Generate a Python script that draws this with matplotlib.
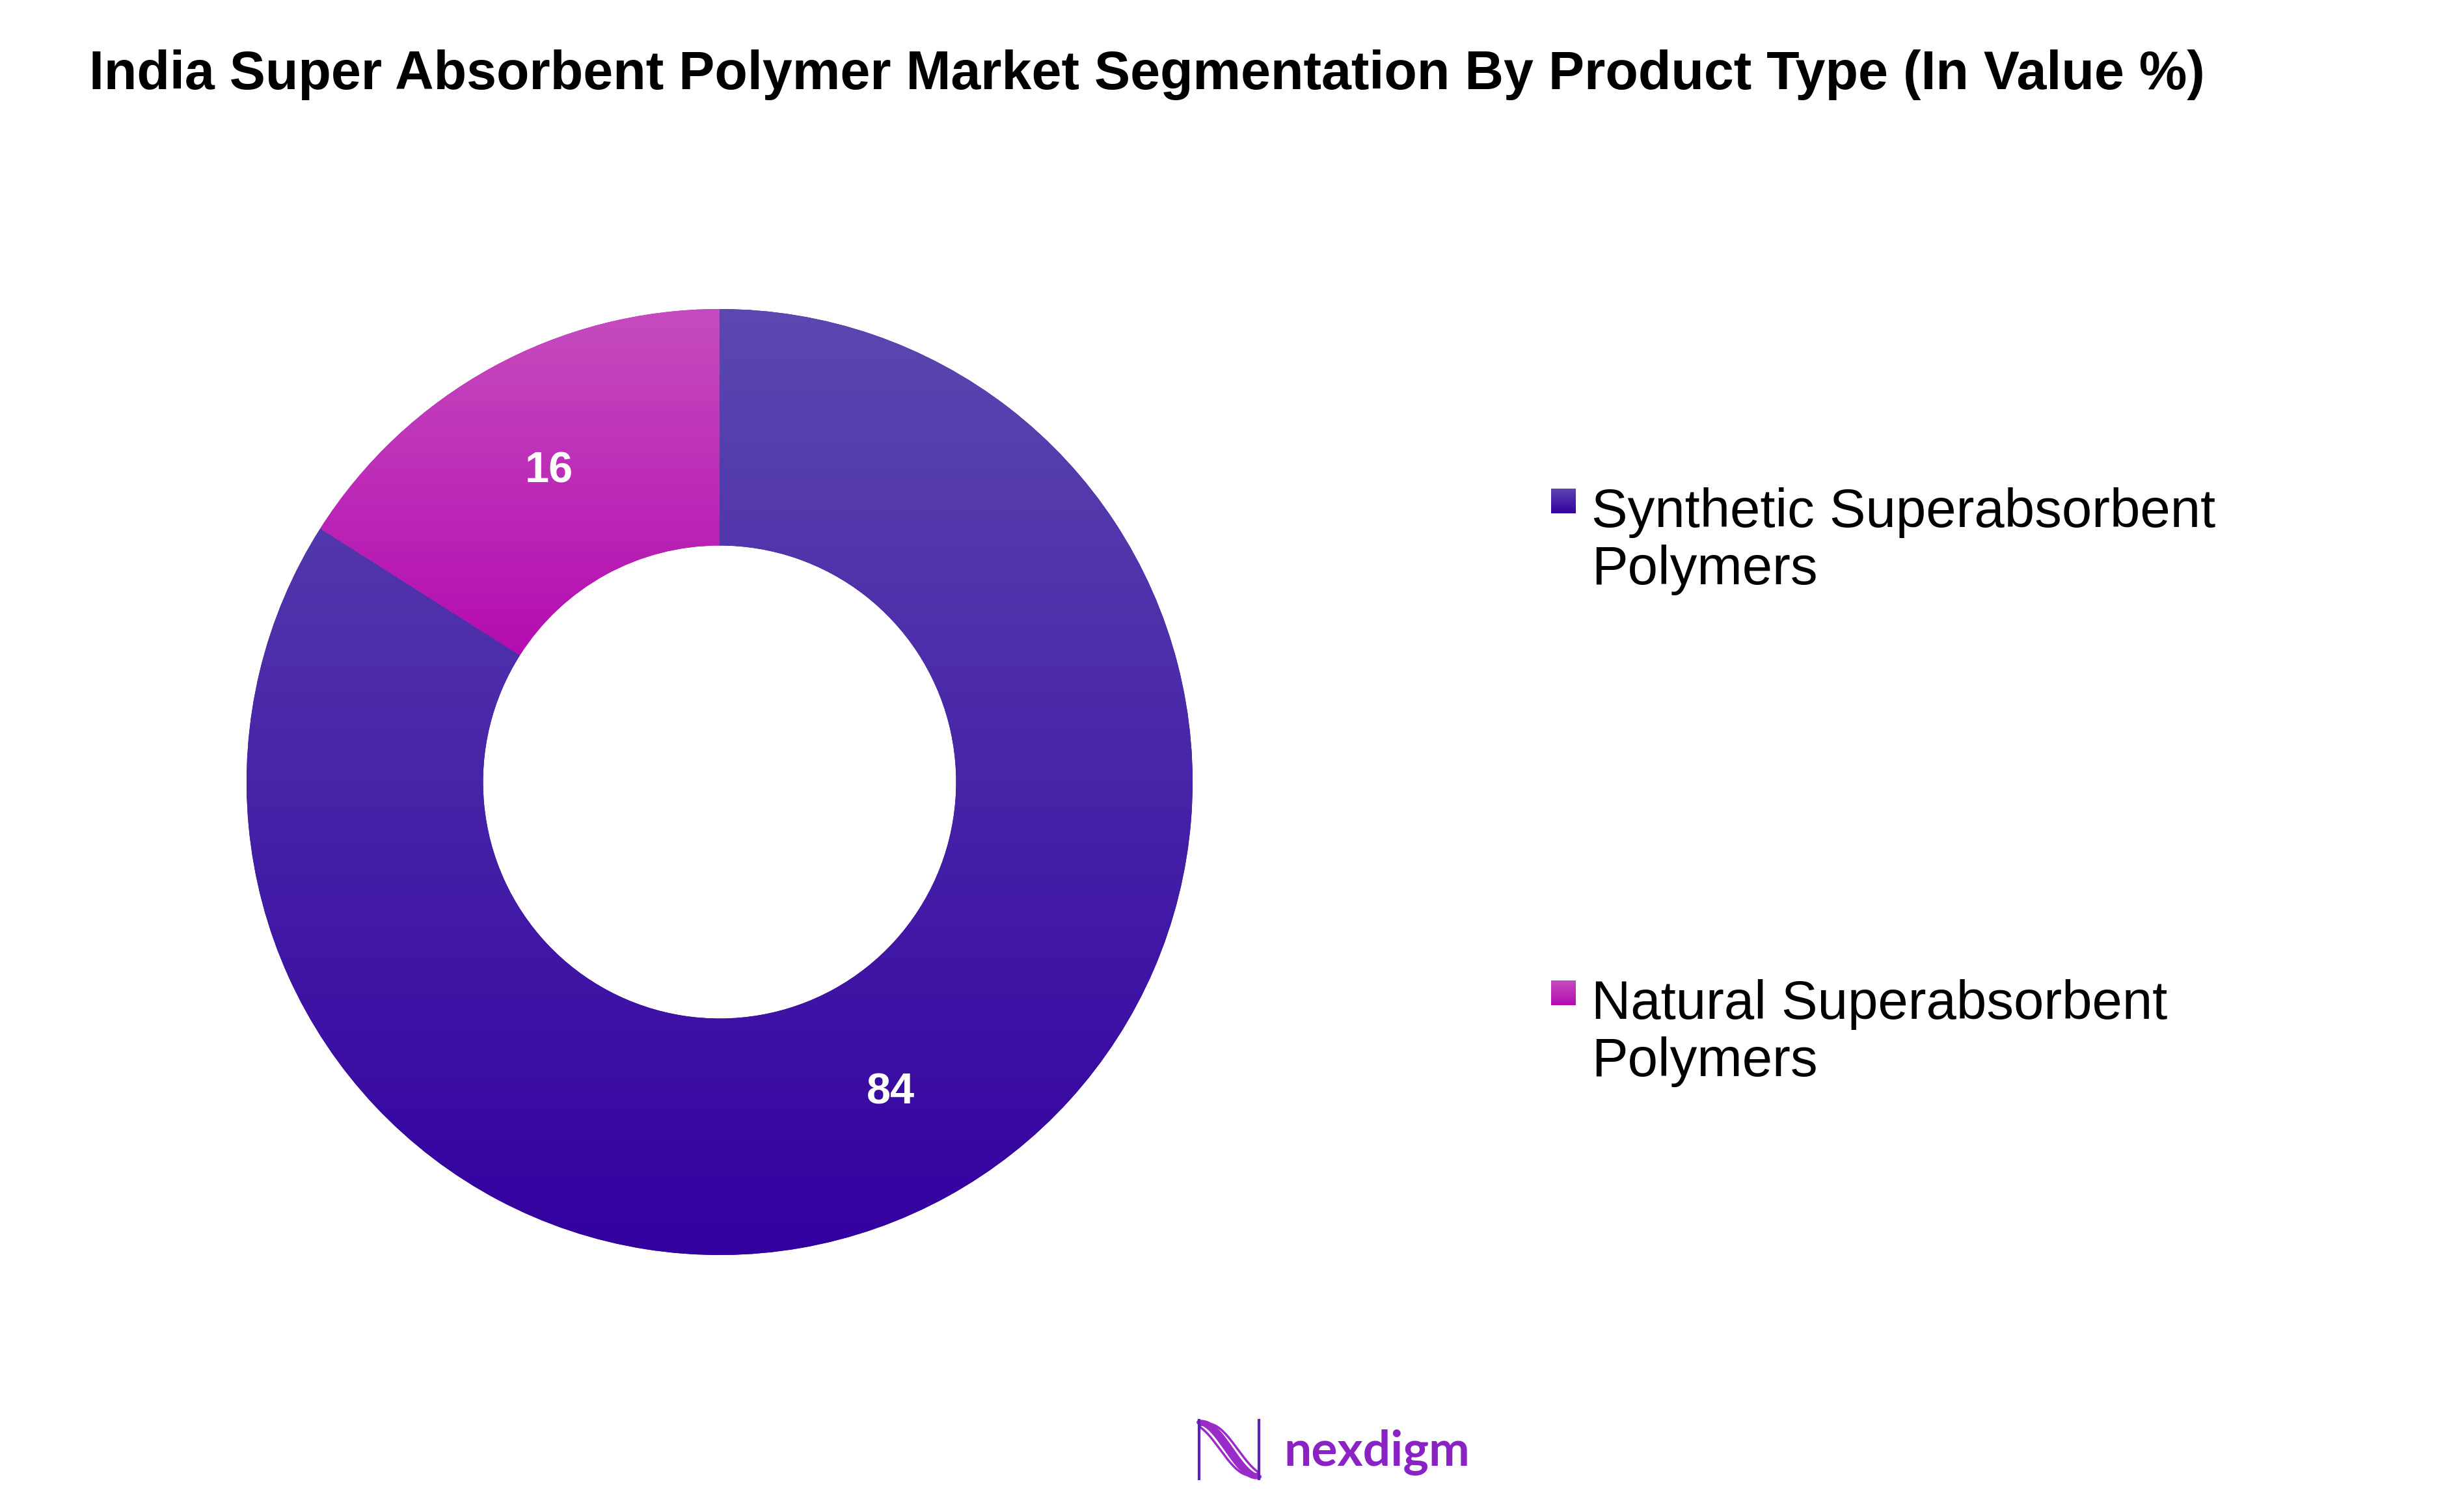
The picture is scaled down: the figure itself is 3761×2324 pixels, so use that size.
import numpy as np
import matplotlib
matplotlib.use("Agg")
import matplotlib.pyplot as plt
from matplotlib.colors import to_rgb

# ---- data ----
title = "India Super Absorbent Polymer Market Segmentation By Product Type (In Value %)"
categories = ["Synthetic Superabsorbent\nPolymers", "Natural Superabsorbent\nPolymers"]
values = [84, 16]
value_labels = ["84", "16"]
base_colors = ["#3300A0", "#B40CB0"]
light_colors = ["#5C48B0", "#C64CBE"]

W, H = 3761, 2324
DPI = 100
fig = plt.figure(figsize=(W / DPI, H / DPI), dpi=DPI)
fig.patch.set_facecolor("white")

def grad_img(top, bottom, n=256):
    t = np.linspace(0, 1, n)[:, None, None]
    a = np.array(to_rgb(top))[None, None, :]
    b = np.array(to_rgb(bottom))[None, None, :]
    return a * (1 - t) + b * t

# ---- donut ----
cx, cy, R = 1106, 1202, 727
ax = fig.add_axes([(cx - R) / W, 1 - (cy + R) / H, 2 * R / W, 2 * R / H])
wedges, _ = ax.pie(values, startangle=90, counterclock=False, colors=base_colors,
                   wedgeprops=dict(width=0.5, edgecolor="none"), radius=1)
ax.set_xlim(-1, 1)
ax.set_ylim(-1, 1)
ax.set_aspect("equal")
ax.axis("off")

for w, top, bot in zip(wedges, light_colors, base_colors):
    ext = w.get_path().get_extents()
    im = ax.imshow(grad_img(top, bot), extent=[ext.x0, ext.x1, ext.y0, ext.y1],
                   origin="upper", aspect="auto", zorder=2, interpolation="bilinear")
    im.set_clip_path(w)

# value labels
for w, lab in zip(wedges, value_labels):
    ang = np.deg2rad((w.theta1 + w.theta2) / 2)
    r = 0.75
    ax.text(r * np.cos(ang), r * np.sin(ang), lab, ha="center", va="center",
            color="white", fontsize=48, fontweight="bold",
            family=["Liberation Sans", "DejaVu Sans"], zorder=5)
ax.set_xlim(-1, 1)
ax.set_ylim(-1, 1)

# ---- title ----
fig.text(137 / W, 1 - 115 / H, title, ha="left", va="center", fontsize=59.5,
         fontweight="bold", family=["Liberation Sans", "DejaVu Sans"], color="black")

# ---- legend ----
leg_y = [770, 1526]  # center of marker (px from top)
last_base = [898, 1654]  # baseline of last text line (px from top)
for lab, y, yb, top, bot in zip(categories, leg_y, last_base, light_colors, base_colors):
    sq = 38
    sax = fig.add_axes([2384 / W, 1 - (y + sq / 2) / H, sq / W, sq / H])
    sax.imshow(grad_img(top, bot), aspect="auto", extent=[0, 1, 0, 1], origin="upper")
    sax.axis("off")
    fig.text(2446 / W, 1 - yb / H, lab, ha="left", va="baseline", fontsize=60,
             family=["Liberation Sans", "DejaVu Sans"], color="black", linespacing=1.16)

# ---- logo ----
lax = fig.add_axes([1838 / W, 1 - 2277 / H, 102 / W, 98 / H])
xs = np.linspace(0, 1, 200)
for off, lw in [(-0.1, 2.5), (-0.03, 5), (0.03, 5), (0.1, 2.5)]:
    ys = 0.5 + (0.5 - abs(off)) * np.cos(np.pi * xs) + off * np.sin(np.pi * xs) * 2
    lax.plot(xs, ys, color="#9B2BC8", lw=lw, solid_capstyle="round")
lax.plot([0, 0], [0, 1], color="#5A22B8", lw=3)
lax.plot([1, 1], [0, 1], color="#5A22B8", lw=3)
lax.set_xlim(-0.05, 1.05)
lax.set_ylim(-0.05, 1.05)
lax.axis("off")
fig.text(1973 / W, 1 - 2232 / H, "nexdigm", ha="left", va="center", fontsize=54,
         fontweight="bold", family=["Lato", "DejaVu Sans"], color="#8A22C4")

fig.savefig("out.png", dpi=DPI, facecolor="white")
